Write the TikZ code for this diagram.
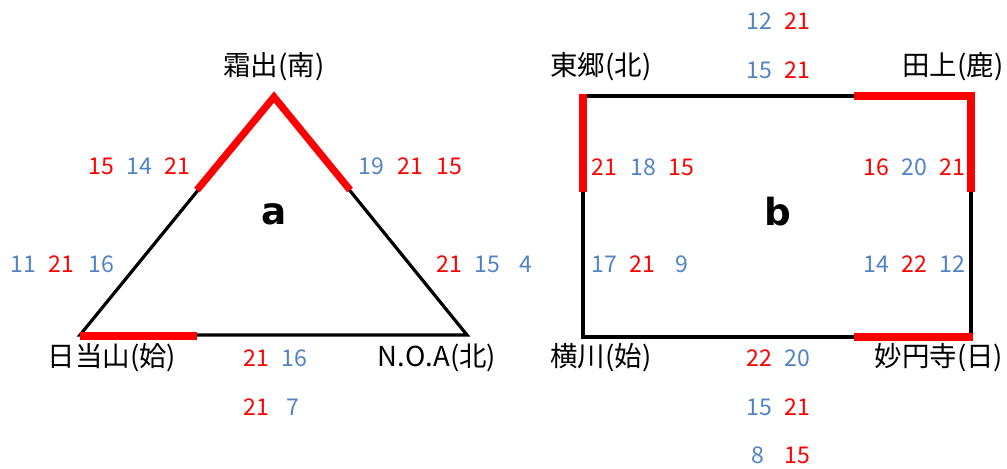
\documentclass[tikz,border=0pt]{standalone}
\usepackage{fontspec}
\setmainfont{Noto Sans CJK JP}
\newfontfamily\lblfont{DejaVu Sans}
\definecolor{nblue}{HTML}{5183C4}
\definecolor{nred}{HTML}{FF0000}
\begin{document}
\begin{tikzpicture}[x=0.75pt,y=-0.75pt,
  num/.style={font=\fontsize{17.3}{20}\selectfont, inner sep=0pt, anchor=center},
  bl/.style={num, text=nblue},
  rd/.style={num, text=nred},
  place/.style={font=\fontsize{20.6}{24}\selectfont, inner sep=0pt, anchor=center},
  big/.style={font=\lblfont\bfseries\fontsize{28}{32}\selectfont, inner sep=0pt, anchor=center},
  edge/.style={line width=2.4pt, black, line join=miter},
  hot/.style={line width=5.4pt, nred, line join=miter}]
\useasboundingbox (0,0) rectangle (1007,468);
% ---- triangle a ----
\coordinate (A) at (274,97);
\coordinate (L) at (80,335);
\coordinate (R) at (467,335);
\coordinate (Lm) at (197,190);
\coordinate (Rm) at (350,190);
\coordinate (Bm) at (197,336);
\draw[edge] (A) -- (L) -- (R) -- cycle;
\draw[hot] (Lm) -- (A) -- (Rm);
\draw[hot] (L |- Bm) -- (Bm);
\node[place] (shimoide) at (274,67) {霜出(南)};
\node[place] (hinata) at (112,358) {日当山(姶)};
\node[place] (noa) at (437,358) {N.O.A(北)};
\node[big] (la) at (274,214) {a};
\node[rd] (t1) at (101,166) {15};
\node[bl] (t2) at (139,166) {14};
\node[rd] (t3) at (177,166) {21};
\node[bl] (t4) at (371,166) {19};
\node[rd] (t5) at (410,166) {21};
\node[rd] (t6) at (449,166) {15};
\node[bl] (t7) at (23,264) {11};
\node[rd] (t8) at (61,264) {21};
\node[bl] (t9) at (101,264) {16};
\node[rd] (t10) at (449,264) {21};
\node[bl] (t11) at (487,264) {15};
\node[bl] (t12) at (526,264) {4};
\node[rd] (t13) at (256,358) {21};
\node[bl] (t14) at (294,358) {16};
\node[rd] (t15) at (256,407) {21};
\node[bl] (t16) at (293,407) {7};
% ---- rectangle b ----
\coordinate (TL) at (583,96);
\coordinate (TR) at (971,96);
\coordinate (BR) at (971,337);
\coordinate (BL) at (583,337);
\coordinate (Tm) at (854,96);
\coordinate (Lr) at (583,192);
\coordinate (Rr) at (971,192);
\coordinate (Bbm) at (854,337);
\draw[edge] (TL) -- (TR) -- (BR) -- (BL) -- cycle;
\draw[hot] ([yshift=1.5pt]TL) -- (Lr);
\draw[hot] (Tm) -- (TR) -- (Rr);
\draw[hot] (Bbm) -- ([xshift=1.5pt]BR);
\node[place] (togo) at (601,67) {東郷(北)};
\node[place] (tagami) at (953,67) {田上(鹿)};
\node[place] (yokogawa) at (601,358) {横川(始)};
\node[place] (myoenji) at (939,358) {妙円寺(日)};
\node[big] (lb) at (778,212) {b};
\node[bl] (r1) at (759,21) {12};
\node[rd] (r2) at (797,21) {21};
\node[bl] (r3) at (759,70) {15};
\node[rd] (r4) at (797,70) {21};
\node[rd] (r5) at (604,167) {21};
\node[bl] (r6) at (643,167) {18};
\node[rd] (r7) at (681,167) {15};
\node[rd] (r8) at (876,167) {16};
\node[bl] (r9) at (914,167) {20};
\node[rd] (r10) at (952,167) {21};
\node[bl] (r11) at (604,264) {17};
\node[rd] (r12) at (642,264) {21};
\node[bl] (r13) at (682,264) {9};
\node[bl] (r14) at (876,264) {14};
\node[rd] (r15) at (914,264) {22};
\node[bl] (r16) at (952,264) {12};
\node[rd] (r17) at (759,358) {22};
\node[bl] (r18) at (797,358) {20};
\node[bl] (r19) at (759,407) {15};
\node[rd] (r20) at (797,407) {21};
\node[bl] (r21) at (758,455) {8};
\node[rd] (r22) at (797,455) {15};
\end{tikzpicture}
\end{document}
